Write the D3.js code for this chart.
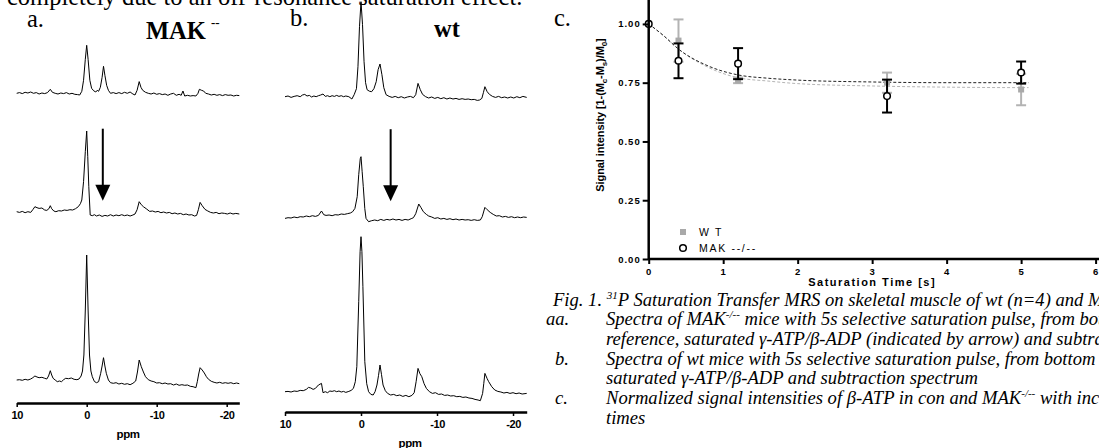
<!DOCTYPE html>
<html lang="en">
<head>
<meta charset="UTF-8" />
<title>31P Saturation Transfer MRS</title>
<script src="https://cdn.jsdelivr.net/npm/d3@7"></script>
<style>
  body { margin: 0; background: #fff; }
  svg { display: block; }
</style>
</head>
<body>
<svg id="fig" width="1099" height="448"></svg>
<script>
// ---- data: 31P spectra, [ppm, intensity above baseline] ----
const makSub = [[10,0],[9.6,0.7],[9.2,-0.3],[8.8,1],[8.4,0.3],[8,1.3],[7.6,0],[7.2,0.7],[6.8,-0.7],[6.4,0.3],[6,-0.3],[5.6,0.7],[5.2,4],[4.9,1],[4.5,0],[4.1,-0.7],[3.7,0.3],[3.3,-0.3],[2.9,0.7],[2.5,-0.7],[2.1,0],[1.7,-1],[1.3,-1.3],[1,-1.7],[0.7,2],[0.45,13],[0.2,34],[0,48],[-0.2,34],[-0.45,13],[-0.7,5],[-1,2.5],[-1.3,1.3],[-1.5,3],[-1.7,2],[-1.95,6],[-2.2,16],[-2.4,27],[-2.6,18],[-2.85,8],[-3.1,3],[-3.4,0],[-3.8,0.7],[-4.2,-0.3],[-4.6,0.7],[-5,-0.3],[-5.4,1],[-5.8,0],[-6.2,1.3],[-6.6,-0.7],[-6.9,-1.7],[-7.2,3],[-7.5,11.7],[-7.75,6],[-8,3],[-8.4,1],[-8.8,0],[-9.2,-0.7],[-9.6,0.3],[-10,-1],[-10.4,-0.3],[-10.8,-1.3],[-11.2,-0.7],[-11.6,-2],[-12,-0.7],[-12.4,0],[-12.8,-2],[-13.2,-1],[-13.5,-2],[-13.75,2.3],[-14,-2.7],[-14.4,-2],[-14.8,-2.7],[-15.2,-2.3],[-15.6,-2.7],[-15.9,0],[-16.1,4],[-16.4,3],[-16.7,2.3],[-17,0],[-17.4,-0.7],[-17.8,-1.7],[-18.2,-1],[-18.6,-2],[-19,-1.3],[-19.4,-2.3],[-19.8,-1.3],[-20.2,-2],[-20.6,-1.7],[-21,-2.7],[-21.4,-2],[-21.8,-2.3]];
const makSat = [[10,0],[9.6,-0.7],[9.2,0.3],[8.8,-1],[8.4,0],[8,-0.7],[7.7,2],[7.4,5],[7.1,4],[6.8,3.3],[6.4,3.7],[6,1.7],[5.7,1.3],[5.4,3],[5.2,6],[5,3],[4.7,0.7],[4.4,0],[4,1],[3.6,0.7],[3.2,1.7],[2.8,1.3],[2.4,2],[2,1.7],[1.6,3],[1.2,5],[0.9,8],[0.7,11.7],[0.45,30],[0.2,60],[0,80.7],[-0.15,55],[-0.3,25],[-0.5,-3.3],[-0.8,-4],[-1.1,-3],[-1.4,-4.3],[-1.8,-3.3],[-2.2,-4.7],[-2.6,-3.7],[-3,-4.3],[-3.4,-3],[-3.8,-4.3],[-4.2,-3.3],[-4.6,-4],[-5,-3],[-5.4,-4],[-5.8,-3.3],[-6.2,-4.3],[-6.6,-3.3],[-6.9,-2.3],[-7.2,2],[-7.5,10],[-7.8,7],[-8.1,5],[-8.5,3],[-9,0.3],[-9.4,0.7],[-9.8,-0.3],[-10.2,0.3],[-10.6,-1],[-11,-0.3],[-11.4,-1.3],[-11.8,-0.7],[-12.2,-2],[-12.6,-1.3],[-13,-2.3],[-13.4,-1.7],[-13.8,-3],[-14.2,-2.3],[-14.6,-3.3],[-15,-3],[-15.4,-4.3],[-15.7,-3.7],[-15.95,2],[-16.2,9.3],[-16.5,6],[-16.9,2.3],[-17.3,0.7],[-17.7,-0.7],[-18.1,-1.3],[-18.5,-0.7],[-18.9,-2],[-19.3,-1.3],[-19.7,-1.7],[-20.1,-2.3],[-20.5,-1.3],[-20.9,-2.3],[-21.3,-1.7],[-21.8,-2.3]];
const makRef = [[10,0],[9.6,0.3],[9.2,-0.3],[8.8,0.7],[8.4,0],[8,1],[7.7,2.3],[7.4,4],[7.1,3],[6.8,2.3],[6.4,2.7],[6,1.7],[5.7,1],[5.45,4],[5.2,9.3],[5,5],[4.8,1.7],[4.5,0],[4.2,-1.7],[3.9,-1],[3.6,-1.7],[3.3,0.3],[3,1.7],[2.6,1.3],[2.2,2],[1.8,0.7],[1.4,0.3],[1.1,1],[0.8,4],[0.6,9],[0.4,25],[0.2,70],[0,125],[-0.2,70],[-0.4,25],[-0.6,9],[-0.8,3.3],[-1.1,-1.5],[-1.4,-2.7],[-1.7,-1.7],[-2,6.7],[-2.2,14],[-2.4,22.3],[-2.6,14],[-2.8,6.7],[-3.1,0],[-3.4,-2.7],[-3.8,-3.3],[-4.2,-2.7],[-4.6,-4],[-5,-3.3],[-5.4,-4.3],[-5.8,-3.7],[-6.2,-4.7],[-6.6,-3.3],[-7,-1],[-7.25,8],[-7.5,20],[-7.8,13.3],[-8.1,8],[-8.4,3.3],[-8.8,0.3],[-9.2,-1],[-9.6,-1.7],[-10,-3],[-10.4,-2.7],[-10.8,-3.7],[-11.2,-3],[-11.6,-4],[-12,-3.7],[-12.4,-5],[-12.8,-4],[-13.2,-5.3],[-13.6,-4.7],[-14,-5.3],[-14.4,-5],[-14.8,-6.3],[-15.2,-6.7],[-15.6,-7.7],[-15.8,-1.7],[-16,6],[-16.2,12.3],[-16.5,10],[-16.8,7],[-17.1,3.3],[-17.4,0.7],[-17.8,-1.3],[-18.2,-2.3],[-18.6,-3],[-19,-2.3],[-19.4,-3.3],[-19.8,-2.7],[-20.2,-3.3],[-20.6,-2.7],[-21,-3.7],[-21.4,-3],[-21.8,-3.7]];

const wtSub = [[10,0],[9.6,0.7],[9.2,-0.7],[8.8,0.3],[8.4,1],[8,0],[7.7,1.7],[7.4,2.3],[7.1,0.7],[6.8,1.3],[6.5,-0.3],[6.2,0.7],[5.9,0],[5.6,1],[5.3,1.7],[5,2.7],[4.7,0.3],[4.4,1],[4.1,0],[3.8,1],[3.5,0.3],[3.2,1.3],[2.9,0.3],[2.6,1],[2.3,0],[2,0.7],[1.6,0],[1.2,-2.3],[0.9,2],[0.6,8],[0.4,30],[0.2,70],[0,95],[-0.2,72],[-0.4,35],[-0.6,14],[-0.8,7],[-1.1,5.5],[-1.4,5],[-1.7,8],[-2,15],[-2.25,27],[-2.5,32.7],[-2.75,22],[-3,9],[-3.3,2],[-3.7,0.3],[-4.1,-0.7],[-4.5,0.3],[-4.9,-1],[-5.3,0],[-5.7,-1.3],[-6.1,-0.3],[-6.5,0.3],[-6.9,-1],[-7.2,2],[-7.5,13.3],[-7.8,7],[-8.1,2.3],[-8.5,0],[-8.9,-1.3],[-9.3,-0.3],[-9.7,-1.7],[-10.1,-0.7],[-10.5,-2],[-10.9,-1],[-11.3,-2.3],[-11.7,-1.3],[-12.1,-2.3],[-12.5,-1.7],[-12.9,-2.7],[-13.3,-2],[-13.7,-2.7],[-14.1,-2.3],[-14.5,-3],[-14.9,-2.7],[-15.3,-3.7],[-15.6,-3.3],[-15.9,-1.7],[-16.1,4],[-16.3,10],[-16.6,5],[-16.9,2.3],[-17.3,0.3],[-17.7,-0.7],[-18.1,0.3],[-18.5,-1],[-18.9,-0.3],[-19.3,-1.3],[-19.7,-0.3],[-20.1,-1.3],[-20.5,0],[-20.9,-1],[-21.3,0.3],[-21.8,-0.7]];
const wtSat = [[10,-1.7],[9.6,-1],[9.2,-1.3],[8.8,-0.3],[8.4,-1],[8,0],[7.6,-0.3],[7.2,0.7],[6.8,0],[6.4,1],[6,0.3],[5.6,1.3],[5.2,5.7],[4.9,2],[4.6,1.3],[4.2,1.7],[3.8,1],[3.4,2],[3,1.7],[2.6,2.7],[2.2,2.3],[1.8,3],[1.4,3.7],[1.1,5],[0.8,8.3],[0.5,20],[0.3,42],[0.1,58],[0,60],[-0.15,45],[-0.3,30],[-0.5,8],[-0.66,-1.7],[-1,-5],[-1.4,-4],[-1.8,-3.3],[-2.2,-4],[-2.6,-2.7],[-3,-3.7],[-3.4,-2.7],[-3.8,-3.3],[-4.2,-2.3],[-4.6,-3.3],[-5,-2.7],[-5.4,-3.7],[-5.8,-2.7],[-6.2,-3.3],[-6.6,-2],[-6.9,-1],[-7.2,3],[-7.6,12.7],[-7.9,9],[-8.2,5],[-8.6,2.3],[-8.9,0.7],[-9.3,-0.3],[-9.7,-1.7],[-10.1,-1],[-10.5,-2.3],[-10.9,-1.7],[-11.3,-2.7],[-11.7,-2],[-12.1,-3],[-12.5,-2.3],[-12.9,-3.3],[-13.3,-2.7],[-13.7,-3.3],[-14.1,-3],[-14.5,-3.7],[-14.9,-3],[-15.3,-3.7],[-15.7,-3.3],[-15.95,0],[-16.3,9.3],[-16.6,7],[-17,4.3],[-17.4,2.3],[-17.8,0.7],[-18.2,1],[-18.6,-0.3],[-19,0.3],[-19.4,-0.7],[-19.8,0],[-20.2,-1],[-20.6,-0.3],[-21,-1],[-21.4,-0.3],[-21.8,-0.7]];
const wtRef = [[10,0],[9.6,0.3],[9.2,-0.3],[8.8,0.7],[8.4,0.3],[8,1.3],[7.6,1],[7.2,2.3],[6.9,4.3],[6.6,3.7],[6.3,2.3],[6,3.3],[5.6,6.7],[5.2,8.3],[5,-1],[4.7,0],[4.4,-1],[4.1,0.7],[3.8,0.3],[3.5,1],[3.2,0],[2.9,0.7],[2.6,-0.3],[2.3,0.3],[2,-0.7],[1.6,0.3],[1.3,1.3],[1,3.3],[0.75,10],[0.55,25],[0.3,90],[0.12,140],[0,155],[-0.12,140],[-0.25,105],[-0.5,30],[-0.75,8],[-1,0],[-1.3,-2.7],[-1.6,-3.3],[-1.85,0],[-2.1,6.7],[-2.3,16],[-2.5,26.7],[-2.7,17],[-2.9,6.7],[-3.2,1],[-3.5,-1.7],[-3.9,-3.3],[-4.3,-2.7],[-4.7,-4],[-5.1,-3.3],[-5.5,-4.7],[-5.9,-3.7],[-6.3,-5],[-6.7,-3.7],[-7,-1],[-7.25,10],[-7.5,23.3],[-7.75,18],[-8,15],[-8.3,8],[-8.6,3.3],[-9,0],[-9.4,-1.7],[-9.8,-1],[-10.2,-2.7],[-10.6,-2.3],[-11,-3.7],[-11.4,-3.3],[-11.8,-4.3],[-12.2,-4],[-12.6,-5],[-13,-4.7],[-13.4,-5.7],[-13.8,-5.3],[-14.2,-6.3],[-14.6,-6.7],[-15,-7.7],[-15.4,-8.3],[-15.7,-9],[-16,-1.7],[-16.15,8],[-16.3,18.3],[-16.6,13],[-16.8,10],[-17.2,5],[-17.6,1.7],[-18,0.3],[-18.4,-0.3],[-18.8,-1.3],[-19.2,-0.7],[-19.6,-1.7],[-20,-1],[-20.4,-2],[-20.8,-1.3],[-21.2,-2.3],[-21.8,-1.7]];

const ppmTicks = [10, 0, -10, -20];
const arrowPpm = [-2.3, -3.9];

// ---- data: normalized beta-ATP signal vs saturation time ----
const satTime = [0, 0.4, 1.2, 3.2, 5];
const wtMean = [1.0, 0.929, 0.76, 0.75, 0.721];
const wtErr = [0, 0.09, 0.012, 0.043, 0.067];
const makMean = [1.0, 0.843, 0.831, 0.693, 0.793];
const makErr = [0, 0.074, 0.066, 0.07, 0.047];
const fitTime = [0, 0.2, 0.4, 0.8, 1.2, 1.6, 2, 3, 4, 5, 5.1];
const wtFit = [1.0, 0.95, 0.893, 0.815, 0.771, 0.757, 0.746, 0.736, 0.731, 0.729, 0.729];
const makFit = [1.0, 0.95, 0.893, 0.821, 0.783, 0.769, 0.761, 0.753, 0.75, 0.75, 0.75];
const yTicks = [0, 0.25, 0.5, 0.75, 1.0];
const xTicks = [0, 1, 2, 3, 4, 5, 6];

const svg = d3.select("#fig");
const serif = "'Liberation Serif', 'Times New Roman', serif";
const sans = "'Liberation Sans', Arial, sans-serif";

// running text and panel letters
const headText = [
  { t: "completely due to an off-resonance saturation effect.", x: 7, y: 4.5, w: "normal" },
  { t: "a.", x: 27, y: 27, w: "normal" },
  { t: "MAK", x: 146, y: 39, w: "bold" },
  { t: "b.", x: 290, y: 25.5, w: "normal" },
  { t: "wt", x: 434, y: 37, w: "bold" },
  { t: "c.", x: 554, y: 25.5, w: "normal" },
];
svg.selectAll("text.head").data(headText).enter().append("text")
  .attr("class", "head")
  .attr("x", (d) => d.x).attr("y", (d) => d.y)
  .attr("font-family", serif).attr("font-size", 24.5).attr("font-weight", (d) => d.w)
  .text((d) => d.t);
svg.append("text").attr("x", 211).attr("y", 27)
  .attr("font-family", serif).attr("font-size", 13).attr("font-weight", "bold")
  .text("--");

// ---- spectra panels ----
const panels = [
  { spectra: [makSub, makSat, makRef], bases: [93.3, 211.7, 380], range: [16.7, 239.3], axisY: 403, ppmX: 128, ppmY: 438, arrow: arrowPpm[0], arrowTip: 11 },
  { spectra: [wtSub, wtSat, wtRef], bases: [96.7, 216.7, 391.7], range: [285, 526.7], axisY: 412, ppmX: 410, ppmY: 447, arrow: arrowPpm[1], arrowTip: 15.5 },
];

panels.forEach((p) => {
  const x = d3.scaleLinear().domain([10, -21.8]).range(p.range);
  p.spectra.forEach((s, i) => {
    const y = d3.scaleLinear().domain([0, 100]).range([p.bases[i], p.bases[i] - 100]);
    svg.append("path").datum(s)
      .attr("d", d3.line().x((d) => x(d[0])).y((d) => y(d[1])))
      .attr("fill", "none").attr("stroke", "#000").attr("stroke-width", 1)
      .attr("stroke-linejoin", "round");
  });

  // arrow over the saturated spectrum
  const ym = d3.scaleLinear().domain([0, 100]).range([p.bases[1], p.bases[1] - 100]);
  const ax = x(p.arrow);
  const tip = ym(p.arrowTip);
  svg.append("line")
    .attr("x1", ax).attr("x2", ax).attr("y1", ym(p.arrowTip + 72)).attr("y2", tip - 14)
    .attr("stroke", "#000").attr("stroke-width", 2);
  svg.append("path")
    .attr("d", `M${ax - 7.5},${tip - 16}L${ax + 7.5},${tip - 16}L${ax},${tip}Z`)
    .attr("fill", "#000");

  const axis = d3.axisBottom(x).tickValues(ppmTicks).tickSize(4).tickSizeOuter(0)
    .tickPadding(4).tickFormat((d) => String(d));
  const g = svg.append("g").attr("transform", `translate(0,${p.axisY})`).call(axis);
  g.select(".domain").attr("stroke-width", 2.5);
  g.selectAll(".tick line").attr("stroke-width", 1.5);
  g.selectAll(".tick text").attr("font-family", sans).attr("font-size", 11)
    .attr("font-weight", "bold").attr("letter-spacing", -0.4);
  svg.append("text").attr("x", p.ppmX).attr("y", p.ppmY).attr("text-anchor", "middle")
    .attr("font-family", sans).attr("font-size", 11.5).attr("font-weight", "bold")
    .attr("letter-spacing", -0.5).text("ppm");
});

// ---- panel c ----
const x = d3.scaleLinear().domain([0, 6]).range([648.7, 1095.6]);
const y = d3.scaleLinear().domain([0, 1.1]).range([259, 0.4]);
const grey = "#a9a9a9";

const line = d3.line().x((d) => x(d[0])).y((d) => y(d[1])).curve(d3.curveMonotoneX);
svg.append("path").datum(d3.zip(fitTime, wtFit)).attr("d", line)
  .attr("fill", "none").attr("stroke", "#b5b5b5").attr("stroke-width", 1).attr("stroke-dasharray", "3,2");
svg.append("path").datum(d3.zip(fitTime, makFit)).attr("d", line)
  .attr("fill", "none").attr("stroke", "#222").attr("stroke-width", 1).attr("stroke-dasharray", "3,2");

function errorBars(means, errs, color) {
  const d = satTime.map((t, i) => ({ t, m: means[i], e: errs[i] })).filter((d) => d.e > 0);
  const g = svg.append("g").attr("stroke", color).attr("stroke-width", 2);
  g.selectAll("line.v").data(d).enter().append("line")
    .attr("x1", (d) => x(d.t)).attr("x2", (d) => x(d.t))
    .attr("y1", (d) => y(d.m - d.e)).attr("y2", (d) => y(d.m + d.e));
  [1, -1].forEach((s) => {
    g.selectAll("line.c" + s).data(d).enter().append("line")
      .attr("x1", (d) => x(d.t) - 5).attr("x2", (d) => x(d.t) + 5)
      .attr("y1", (d) => y(d.m + s * d.e)).attr("y2", (d) => y(d.m + s * d.e));
  });
}

errorBars(wtMean, wtErr, "#b3b3b3");
svg.selectAll("rect.wt").data(satTime).enter().append("rect")
  .attr("x", (d) => x(d) - 3).attr("y", (d, i) => y(wtMean[i]) - 3)
  .attr("width", 6).attr("height", 6).attr("fill", grey);

errorBars(makMean, makErr, "#000");
svg.selectAll("circle.mak").data(satTime).enter().append("circle")
  .attr("cx", (d) => x(d)).attr("cy", (d, i) => y(makMean[i])).attr("r", 3.3)
  .attr("fill", "#fff").attr("stroke", "#000").attr("stroke-width", 1.5);

// axes
const yAxis = svg.append("g").attr("transform", `translate(${x(0)},0)`)
  .call(d3.axisLeft(y).tickValues(yTicks).tickSize(6).tickSizeOuter(0).tickPadding(2)
    .tickFormat(d3.format(".2f")));
const xAxis = svg.append("g").attr("transform", `translate(0,${y(0)})`)
  .call(d3.axisBottom(x).tickValues(xTicks).tickSize(5).tickSizeOuter(0).tickPadding(4)
    .tickFormat(d3.format("d")));
[yAxis, xAxis].forEach((g) => {
  g.select(".domain").attr("stroke-width", 2.5);
  g.selectAll(".tick line").attr("stroke-width", 2);
  g.selectAll(".tick text").attr("font-family", sans).attr("font-size", 9.5)
    .attr("font-weight", "bold").attr("letter-spacing", 1);
});
// y axis line runs to the top of the frame
yAxis.select(".domain").attr("d", `M0,${y(0)}V0`);
xAxis.select(".domain").attr("d", `M${x(0)},0H1099`);

svg.append("text").attr("x", (x(0) + x(6)) / 2).attr("y", 286).attr("text-anchor", "middle")
  .attr("font-family", sans).attr("font-size", 11).attr("font-weight", "bold")
  .attr("letter-spacing", 1.5).text("Saturation Time [s]");

const yt = svg.append("text").attr("transform", "translate(603.5,115) rotate(-90)")
  .attr("text-anchor", "middle").attr("font-family", sans).attr("font-size", 11)
  .attr("font-weight", "bold").attr("letter-spacing", -0.1);
[["Signal intensity [1-(M", 0], ["c", 3], ["-M", -3], ["s", 3], [")/M", -3], ["0", 3], ["]", -3]]
  .forEach(([t, dy], i) => {
    yt.append("tspan").attr("dy", dy).attr("font-size", i % 2 ? 8 : 11).text(t);
  });

// legend
const legend = svg.append("g").attr("font-family", sans).attr("font-size", 10.5).attr("letter-spacing", 1.7);
legend.append("rect").attr("x", 680).attr("y", 229).attr("width", 6).attr("height", 6).attr("fill", grey);
legend.append("circle").attr("cx", 683).attr("cy", 248).attr("r", 3.3)
  .attr("fill", "#fff").attr("stroke", "#000").attr("stroke-width", 1.5);
legend.append("text").attr("x", 699).attr("y", 235.8).text("W T");
legend.append("text").attr("x", 699).attr("y", 251.8).text("MAK --/--");

// ---- caption ----
const caption = [
  { label: "", lx: 553, x: 553, parts: [["Fig. 1. ", 0], ["31", 1], ["P Saturation Transfer MRS on skeletal muscle of wt (n=4) and MAK", 0]] },
  { label: "aa.", lx: 546, x: 606, parts: [["Spectra of MAK", 0], ["-/--", 1], [" mice with 5s selective saturation pulse, from bottom", 0]] },
  { label: "", lx: 546, x: 606, parts: [["reference, saturated \u03b3-ATP/\u03b2-ADP (indicated by arrow) and subtraction", 0]] },
  { label: "b.", lx: 555, x: 606, parts: [["Spectra of wt mice with 5s selective saturation pulse, from bottom to", 0]] },
  { label: "", lx: 555, x: 606, parts: [["saturated \u03b3-ATP/\u03b2-ADP and subtraction spectrum", 0]] },
  { label: "c.", lx: 555, x: 606, parts: [["Normalized signal intensities of \u03b2-ATP in con and MAK", 0], ["-/--", 1], [" with increasing", 0]] },
  { label: "", lx: 555, x: 606, parts: [["times", 0]] },
];
const cap = svg.append("g").attr("font-family", serif).attr("font-style", "italic").attr("font-size", 18.6);
caption.forEach((c, i) => {
  const by = 305.5 + i * 19.7;
  if (c.label) cap.append("text").attr("x", c.lx).attr("y", by).text(c.label);
  const t = cap.append("text").attr("x", c.x).attr("y", by);
  let up = 0;
  c.parts.forEach(([s, sup]) => {
    const dy = sup ? -7 : (up ? 7 : 0);
    up = sup;
    t.append("tspan").attr("dy", dy).attr("font-size", sup ? 11 : 18.6).text(s);
  });
});
</script>
</body>
</html>
